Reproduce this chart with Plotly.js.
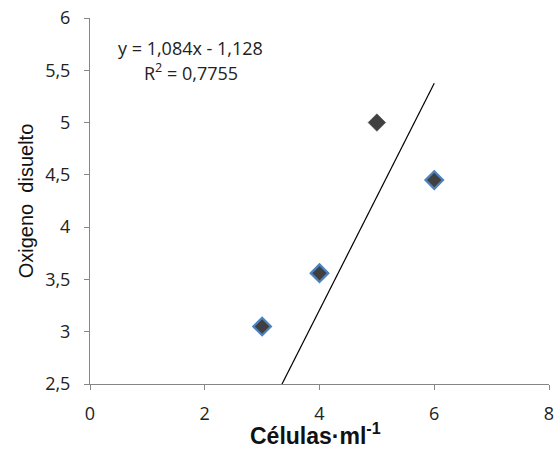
<!DOCTYPE html>
<html>
<head>
<meta charset="utf-8">
<script src="https://cdn.plot.ly/plotly-3.0.1.min.js"></script>
<style>html,body{margin:0;padding:0;background:#fff;}#chart{width:557px;height:452px;}</style>
</head>
<body>
<div id="chart"></div>
<script>
// Data
const cells = [3, 4, 5, 6];
const oxygen = [3.05, 3.56, 5.0, 4.45];
const outlineColors = ['#4f81bd', '#4f81bd', '#404040', '#4f81bd'];
const outlineWidths = [2.2, 2.2, 0.5, 2.2];
// Trendline as printed on the chart
const slope = 1.084;
const intercept = -1.128;
const r2 = 0.7755;
const trendX = [3, 6];
const trendY = trendX.map(x => slope * x + intercept);

const fmt = (v, d) => v.toFixed(d).replace('.', ',');

const tickFont = {family: '"Open Sans", Lato, sans-serif', size: 18, color: '#222'};

const data = [
  {
    x: trendX, y: trendY, mode: 'lines', type: 'scatter',
    line: {color: '#000', width: 1.2}, hoverinfo: 'skip', showlegend: false
  },
  {
    x: cells, y: oxygen, mode: 'markers', type: 'scatter',
    marker: {symbol: 'diamond', size: 13.5, color: '#404040',
             line: {color: outlineColors, width: outlineWidths}},
    showlegend: false, cliponaxis: false
  }
];

const layout = {
  width: 557, height: 452,
  margin: {l: 90, r: 8, t: 18, b: 68},
  paper_bgcolor: '#fff', plot_bgcolor: '#fff',
  separators: ', ',
  showlegend: false,
  xaxis: {
    range: [0, 8], dtick: 2, tick0: 0,
    showgrid: false, zeroline: false,
    showline: true, linecolor: '#868686', linewidth: 1,
    ticks: 'outside', ticklen: 5, tickcolor: '#868686',
    ticklabelstandoff: 8,
    tickfont: tickFont
  },
  yaxis: {
    range: [2.5, 6], dtick: 0.5, tick0: 2.5,
    showgrid: false, zeroline: false,
    showline: true, linecolor: '#868686', linewidth: 1,
    ticks: 'outside', ticklen: 5, tickcolor: '#868686',
    ticklabelstandoff: 10,
    tickfont: tickFont,
    title: {text: 'Oxigeno  disuelto', standoff: 6,
            font: {family: 'Liberation Sans, Arial, sans-serif', size: 20, color: '#111'}}
  },
  annotations: [
    {
      xref: 'paper', yref: 'paper', x: (190 - 90) / 459, y: 1 - (48 - 18) / 366,
      xanchor: 'center', yanchor: 'middle', showarrow: false,
      text: 'y = ' + fmt(slope, 3) + 'x - ' + fmt(-intercept, 3),
      font: tickFont
    },
    {
      xref: 'paper', yref: 'paper', x: (191 - 90) / 459, y: 1 - (72 - 18) / 366,
      xanchor: 'center', yanchor: 'middle', showarrow: false,
      text: 'R<sup>2</sup> = ' + fmt(r2, 4),
      font: tickFont
    },
    {
      xref: 'paper', yref: 'paper', x: (315 - 90) / 459, y: -(434 - 384) / 366,
      xanchor: 'center', yanchor: 'middle', showarrow: false,
      text: 'Células·ml<sup>-1</sup>',
      font: {family: 'Liberation Sans, Arial, sans-serif', size: 23, color: '#111', weight: 'bold'}
    }
  ]
};

Plotly.newPlot('chart', data, layout, {displayModeBar: false, staticPlot: true});
</script>
</body>
</html>
